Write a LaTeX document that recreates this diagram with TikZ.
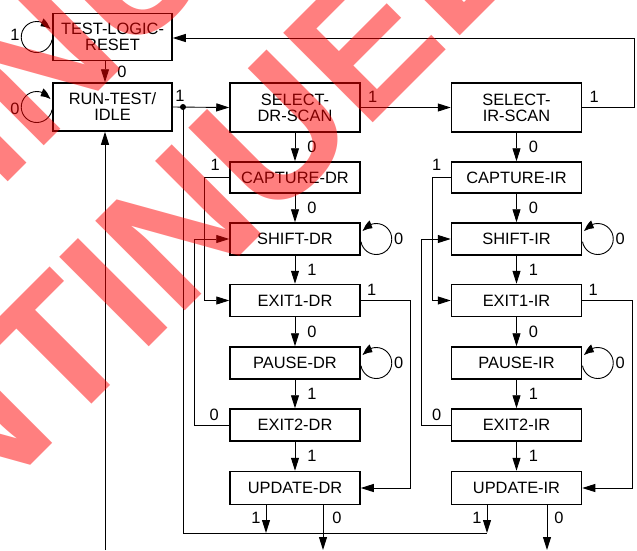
\documentclass[tikz,border=0pt]{standalone}
\usepackage{fontspec}
\setmainfont{Liberation Sans}
\usetikzlibrary{arrows.meta,calc,bending}
\tikzset{
  box/.style={draw, line width=1.5pt, minimum width=130pt, minimum height=32pt, inner sep=0pt, align=center, font=\fontsize{16.4pt}{16pt}\selectfont},
  wire/.style={line width=0.9pt},
  arr/.style={wire, -{Triangle[length=13pt,width=8pt]}},
  looparr/.style={wire, -{Triangle[length=11pt,width=8pt,bend]}},
  lbl/.style={inner sep=0pt, font=\fontsize{16.4pt}{16pt}\selectfont},
  wm/.style={inner sep=0pt, rotate=45, anchor=base west, text=red, opacity=0.5, font=\fontsize{184pt}{184pt}\selectfont\bfseries}
}
\begin{document}
\begin{tikzpicture}[x=1pt,y=-1pt]
\useasboundingbox (0,0) rectangle (637,550);
\clip (0,0) rectangle (637,550);
% boxes
\node[box, minimum width=119pt, minimum height=47pt] (TLR) at (112.5,37) {TEST-LOGIC-\\RESET};
\node[box, minimum width=119pt, minimum height=48pt] (RTI) at (112.5,107) {RUN-TEST/\\IDLE};
\node[box, minimum height=49pt] (SDR) at (295,107.5) {SELECT-\\DR-SCAN};
\node[box, minimum height=49pt] (SIR) at (516.5,107.5) {SELECT-\\IR-SCAN};
\node[box, minimum height=31pt] (CDR) at (295,177.5) {CAPTURE-DR};
\node[box] (ShDR) at (295,239) {SHIFT-DR};
\node[box] (E1DR) at (295,300.5) {EXIT1-DR};
\node[box] (PDR) at (295,363) {PAUSE-DR};
\node[box] (E2DR) at (295,425) {EXIT2-DR};
\node[box, minimum height=33pt] (UDR) at (295,488) {UPDATE-DR};
\node[box, minimum height=31pt] (CIR) at (516.5,177.5) {CAPTURE-IR};
\node[box] (ShIR) at (516.5,239) {SHIFT-IR};
\node[box] (E1IR) at (516.5,300.5) {EXIT1-IR};
\node[box] (PIR) at (516.5,363) {PAUSE-IR};
\node[box] (E2IR) at (516.5,425) {EXIT2-IR};
\node[box, minimum height=33pt] (UIR) at (516.5,488) {UPDATE-IR};
% coordinates
\coordinate (dot) at (183,107);
\coordinate (u1dr) at (266,533);
\coordinate (u1ir) at (487,533);
\coordinate (u0dr) at (323,550);
\coordinate (u0ir) at (547,550);
\coordinate (rin) at (105,550);
% self loops
\draw[looparr] ($(TLR.west)+(-15.5,0)+(10:15.5)$) arc[start angle=10, end angle=330, radius=15.5];
\node[lbl] (l1) at (15,35) {1};
\draw[looparr] ($(RTI.west)+(-15.5,0)+(10:15.5)$) arc[start angle=10, end angle=330, radius=15.5];
\node[lbl] (l2) at (15,109) {0};
\draw[looparr] ($(ShDR.east)+(15.5,0)+(170:15.5)$) arc[start angle=170, end angle=-150, radius=15.5];
\node[lbl] (l3) at ($(ShDR.east)+(38,0)$) {0};
\draw[looparr] ($(PDR.east)+(15.5,0)+(170:15.5)$) arc[start angle=170, end angle=-150, radius=15.5];
\node[lbl] (l4) at ($(PDR.east)+(38,0)$) {0};
\draw[looparr] ($(ShIR.east)+(15.5,0)+(170:15.5)$) arc[start angle=170, end angle=-150, radius=15.5];
\node[lbl] (l5) at ($(ShIR.east)+(38,0)$) {0};
\draw[looparr] ($(PIR.east)+(15.5,0)+(170:15.5)$) arc[start angle=170, end angle=-150, radius=15.5];
\node[lbl] (l6) at ($(PIR.east)+(38,0)$) {0};
% TLR -> RTI
\draw[arr] ([xshift=-7.5pt]TLR.south) -- node[lbl, xshift=17pt] {0} ([xshift=-7.5pt]RTI.north);
% RTI -> SDR
\draw[arr] (RTI.east) -- (SDR.west);
\fill (dot) circle[radius=3];
\node[lbl] at (180,96) {1};
% vertical chains
\draw[arr] (SDR) -- node[lbl, xshift=17pt] {0} (CDR);
\draw[arr] (CDR) -- node[lbl, xshift=17pt] {0} (ShDR);
\draw[arr] (ShDR) -- node[lbl, xshift=17pt] {1} (E1DR);
\draw[arr] (E1DR) -- node[lbl, xshift=17pt] {0} (PDR);
\draw[arr] (PDR) -- node[lbl, xshift=17pt] {1} (E2DR);
\draw[arr] (E2DR) -- node[lbl, xshift=17pt] {1} (UDR);
\draw[arr] (SIR) -- node[lbl, xshift=17pt] {0} (CIR);
\draw[arr] (CIR) -- node[lbl, xshift=17pt] {0} (ShIR);
\draw[arr] (ShIR) -- node[lbl, xshift=17pt] {1} (E1IR);
\draw[arr] (E1IR) -- node[lbl, xshift=17pt] {0} (PIR);
\draw[arr] (PIR) -- node[lbl, xshift=17pt] {1} (E2IR);
\draw[arr] (E2IR) -- node[lbl, xshift=17pt] {1} (UIR);
% side loops DR
\draw[arr] (CDR.west) -- ++(-25,0) |- (E1DR.west);
\node[lbl] at ($(CDR.west)+(-14,-13)$) {1};
\draw[arr] (E2DR.west) -- ++(-35,0) |- (ShDR.west);
\node[lbl] at ($(E2DR.west)+(-15,-10)$) {0};
\draw[arr] (E1DR.east) -- ++(50,0) |- (UDR.east);
\node[lbl] at ($(E1DR.east)+(11,-11)$) {1};
% side loops IR
\draw[arr] (CIR.west) -- ++(-18,0) |- (E1IR.west);
\node[lbl] at ($(CIR.west)+(-14,-13)$) {1};
\draw[arr] (E2IR.west) -- ++(-29,0) |- (ShIR.west);
\node[lbl] at ($(E2IR.west)+(-14,-10)$) {0};
\draw[arr] (E1IR.east) -- ++(50,0) |- (UIR.east);
\node[lbl] at ($(E1IR.east)+(11,-11)$) {1};
% select
\draw[arr] (SDR.east) -- (SIR.west);
\node[lbl] at ($(SDR.east)+(12,-11)$) {1};
\draw[arr] (SIR.east) -- ++(52,0) |- ([yshift=-1pt]TLR.east);
\node[lbl] at ($(SIR.east)+(12,-11)$) {1};
% update outputs
\draw[wire] (dot) |- (u1ir);
\draw[arr] (UDR.south -| u1dr) -- (u1dr);
\node[lbl] at ($(u1dr)+(-10,-15)$) {1};
\draw[arr] (UIR.south -| u1ir) -- (u1ir);
\node[lbl] at ($(u1ir)+(-10,-15)$) {1};
\draw[arr] (UDR.south -| u0dr) -- (u0dr);
\node[lbl] at ($(u0dr |- u1dr)+(14,-15)$) {0};
\draw[arr] (UIR.south -| u0ir) -- (u0ir);
\node[lbl] at ($(u0ir |- u1ir)+(12,-15)$) {0};
\draw[arr] (rin) -- (rin |- RTI.south);
% watermark
\node[wm] (wm1) at (-445,941) {DISCONTINUED};
\node[wm] (wm2) at (-586,776) {DISCONTINUED};
\end{tikzpicture}
\end{document}
